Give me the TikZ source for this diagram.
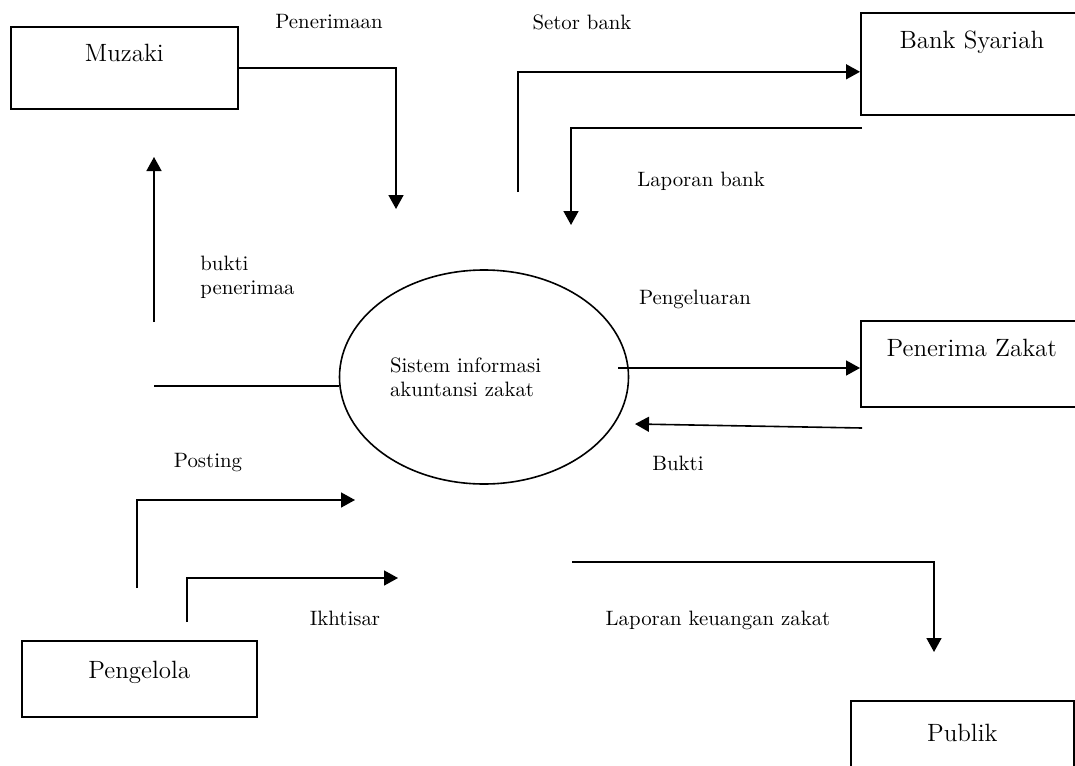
\documentclass[tikz,border=0pt]{standalone}
\usetikzlibrary{arrows.meta,shapes.geometric}

\begin{document}
\begin{tikzpicture}[
		x=0.5pt, y=-0.5pt,
		entity/.style={
			draw,
			line width=0.8pt,
			anchor=north west,
			inner sep=0pt,
			font=\fontsize{12.5}{15}\selectfont
		},
		flowlabel/.style={
			inner sep=0pt,
			font=\fontsize{10.4}{12}\selectfont
		},
		flow/.style={line width=0.8pt, -{Triangle[length=7pt,width=7.5pt]}},
		plain/.style={line width=0.8pt}
		]
		
		\clip (0,0) rectangle (1075,765);
		
		\node[entity, minimum width=113.5pt, text height=17.5pt, text depth=23.5pt] (muzaki) at (10,26) {Muzaki};
		
		\node[entity, minimum width=111pt, text height=18pt, text depth=33pt] (bank) at (860,12) {Bank Syariah};
		
		\node[entity, minimum width=111pt, text height=18pt, text depth=25pt] (penerima) at (860,320) {Penerima Zakat};
		
		\node[entity, minimum width=117.5pt, text height=19pt, text depth=19pt] (pengelola) at (21,640) {Pengelola};
		
		\node[entity, minimum width=111.5pt, text height=20.5pt, text depth=30pt] (publik) at (850,700) {Publik};
		
		\node[draw, ellipse, line width=0.8pt, minimum width=144.5pt, minimum height=107pt, text width=94pt, align=left, font=\fontsize{10.4}{12}\selectfont] (sistem) at (484,377) {Sistem informasi\\akuntansi zakat};
		
		\node[flowlabel] (lblPenerimaan) at (329,22) {Penerimaan};
		\node[flowlabel] (lblSetor) at (582,22) {Setor bank};
		\node[flowlabel] (lblLapBank) at (701,181) {Laporan bank};
		\node[flowlabel, anchor=west, align=left] (lblBuktiTerima) at (200,277) {bukti\\penerimaa};
		\node[flowlabel] (lblKeluar) at (695,299) {Pengeluaran};
		\node[flowlabel] (lblBukti) at (678,463) {Bukti};
		\node[flowlabel] (lblPosting) at (208,463) {Posting};
		\node[flowlabel] (lblIkhtisar) at (345,618) {Ikhtisar};
		\node[flowlabel] (lblLapKeu) at (718,620) {Laporan keuangan zakat};
		
		\coordinate (penerimaanEnd) at (396,209);
		\coordinate (setorStart) at (518,192);
		\coordinate (lapBankStart) at (862,128);
		\coordinate (lapBankEnd) at (571,225);
		\coordinate (buktiStart) at (154,322);
		\coordinate (buktiEnd) at (154,157);
		\coordinate (muzakiLine) at (154,386);
		\coordinate (keluarStart) at (618,368);
		\coordinate (buktiZStart) at (862,428);
		\coordinate (buktiZEnd) at (635,424);
		\coordinate (postStart) at (137,588);
		\coordinate (postEnd) at (355,500);
		\coordinate (ikhStart) at (187,622);
		\coordinate (ikhEnd) at (398,578);
		\coordinate (lapKeuStart) at (572,562);
		\coordinate (lapKeuEnd) at (934,652);
		
		\draw[flow] (muzaki.east) -| (penerimaanEnd);
		\draw[flow] (setorStart) |- ([yshift=-4pt]bank.west);
		\draw[flow] (lapBankStart) -| (lapBankEnd);
		\draw[flow] (buktiStart) -- (buktiEnd);
		\draw[plain] (muzakiLine) -- (muzakiLine -| sistem.west);
		\draw[flow] (keluarStart) -- (keluarStart -| penerima.west);
		\draw[flow] (buktiZStart) -- (buktiZEnd);
		\draw[flow] (postStart) |- (postEnd);
		\draw[flow] (ikhStart) |- (ikhEnd);
		\draw[flow] (lapKeuStart) -| (lapKeuEnd);
		
	\end{tikzpicture}
\end{document}
